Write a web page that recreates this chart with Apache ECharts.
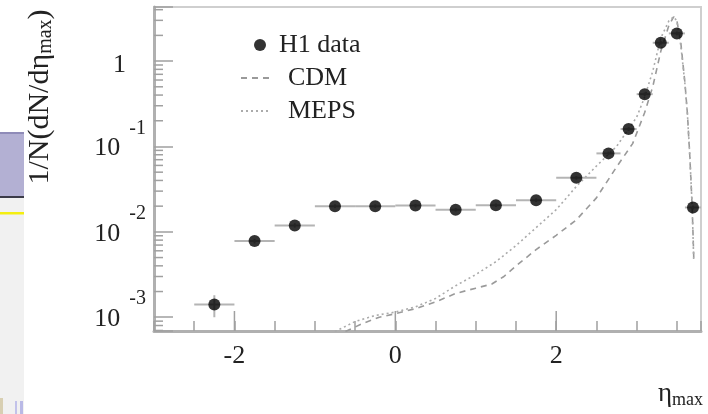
<!DOCTYPE html>
<html>
<head>
<meta charset="utf-8">
<script src="https://cdn.jsdelivr.net/npm/echarts@6/dist/echarts.min.js"></script>
<style>
html,body{margin:0;padding:0;background:#fff;}
#chart{width:708px;height:414px;}
</style>
</head>
<body>
<div id="chart"></div>
<script>
// ---- data ----
const etaCenters = [-2.25, -1.75, -1.25, -0.75, -0.25, 0.25, 0.75, 1.25, 1.75, 2.25, 2.65, 2.9, 3.1, 3.3, 3.5, 3.7];
const binLow     = [-2.5, -2.0, -1.5, -1.0, -0.5, 0.0, 0.5, 1.0, 1.5, 2.0, 2.5, 2.8, 3.0, 3.2, 3.4, 3.6];
const binHigh    = [-2.0, -1.5, -1.0, -0.5, 0.0, 0.5, 1.0, 1.5, 2.0, 2.5, 2.8, 3.0, 3.2, 3.4, 3.6, 3.8];
const h1Values   = [1.41e-3, 7.8e-3, 1.19e-2, 2.0e-2, 2.0e-2, 2.03e-2, 1.82e-2, 2.05e-2, 2.35e-2, 4.3e-2, 8.3e-2, 0.16, 0.41, 1.64, 2.11, 1.93e-2];
const h1ErrLow   = [1.0e-3, 7.3e-3, 1.12e-2, 1.9e-2, 1.9e-2, 1.93e-2, 1.73e-2, 1.95e-2, 2.23e-2, 4.1e-2, 7.9e-2, 0.152, 0.39, 1.56, 2.0, 1.83e-2];
const h1ErrHigh  = [1.81e-3, 8.3e-3, 1.26e-2, 2.1e-2, 2.1e-2, 2.13e-2, 1.91e-2, 2.15e-2, 2.47e-2, 4.5e-2, 8.7e-2, 0.168, 0.43, 1.72, 2.22, 2.03e-2];

const cdmEta = [-0.62, -0.4, -0.2, 0.0, 0.25, 0.5, 0.75, 1.0, 1.2, 1.35, 1.5, 1.75, 2.0, 2.25, 2.5, 2.75, 2.95, 3.1, 3.2, 3.3, 3.4, 3.46, 3.5, 3.55, 3.6, 3.63, 3.66, 3.69, 3.71];
const cdmVal = [6.8e-4, 8.5e-4, 1.0e-3, 1.1e-3, 1.26e-3, 1.51e-3, 1.9e-3, 2.19e-3, 2.45e-3, 3.0e-3, 3.98e-3, 6.2e-3, 9.1e-3, 1.38e-2, 2.5e-2, 5.75e-2, 0.108, 0.25, 0.5, 1.3, 2.6, 3.3, 3.0, 1.6, 0.56, 0.25, 0.08, 0.02, 5.0e-3];

const mepsEta = [-0.75, -0.5, -0.25, 0.0, 0.25, 0.5, 0.75, 1.0, 1.25, 1.5, 1.75, 2.0, 2.25, 2.5, 2.75, 3.0, 3.1, 3.2, 3.3, 3.4, 3.46, 3.5, 3.55, 3.6, 3.63, 3.66, 3.69, 3.71];
const mepsVal = [6.8e-4, 8.9e-4, 1.05e-3, 1.15e-3, 1.32e-3, 1.66e-3, 2.34e-3, 3.16e-3, 4.47e-3, 6.9e-3, 1.12e-2, 1.82e-2, 3.4e-2, 5.9e-2, 0.1, 0.22, 0.38, 0.76, 1.86, 2.95, 3.3, 2.95, 1.5, 0.54, 0.25, 0.08, 0.02, 4.5e-3];

const xMajorTicks = [-2, 0, 2];
const xLabelValues = [-2, 0, 2];
const logDecades = [-4, -3, -2, -1, 0];
const logMultipliers = [2, 3, 4, 5, 6, 7, 8, 9];

const X_MIN = -3, X_MAX = 3.8, Y_MIN = 6.9e-4, Y_MAX = 4.3;
const FONT = 'Liberation Serif';

const minorY = [];
logDecades.forEach(d => logMultipliers.forEach(m => {
  const v = m * Math.pow(10, d);
  if (v > Y_MIN && v < Y_MAX) minorY.push([X_MIN, v]);
}));

const chart = echarts.init(document.getElementById('chart'), null, {renderer: 'canvas'});

const option = {
  backgroundColor: '#ffffff',
  animation: false,
  graphic: [
    {type: 'rect', shape: {x: 0, y: 133, width: 24, height: 63}, style: {fill: '#b3b0d3'}, silent: true},
    {type: 'rect', shape: {x: 0, y: 132, width: 24, height: 2}, style: {fill: '#8f8bb8'}, silent: true},
    {type: 'rect', shape: {x: 0, y: 196, width: 24, height: 2}, style: {fill: '#3b3b48'}, silent: true},
    {type: 'rect', shape: {x: 0, y: 198, width: 24, height: 216}, style: {fill: '#f1f1f1'}, silent: true},
    {type: 'rect', shape: {x: 0, y: 212, width: 24, height: 2.5}, style: {fill: '#f4ee10'}, silent: true},
    {type: 'rect', shape: {x: 0, y: 398, width: 3, height: 16}, style: {fill: '#d8cfb2'}, silent: true},
    {type: 'rect', shape: {x: 15, y: 401, width: 2, height: 13}, style: {fill: '#c2c2ea'}, silent: true},
    {type: 'rect', shape: {x: 20, y: 401, width: 3, height: 13}, style: {fill: '#b9b9e6'}, silent: true}
  ],
  grid: {left: 154, right: 7, top: 7, bottom: 83, show: true, borderColor: '#cfcfcf', borderWidth: 2, backgroundColor: 'transparent'},
  legend: [
    {
      data: ['H1 data'], left: 249, top: 27, itemWidth: 28, itemHeight: 12,
      textStyle: {fontFamily: FONT, fontSize: 26, color: '#222'}
    },
    {
      data: ['CDM', 'MEPS'], orient: 'vertical', left: 235, top: 60, itemWidth: 30, itemHeight: 14, itemGap: 7,
      itemStyle: {color: 'transparent', borderColor: 'transparent', borderWidth: 0, opacity: 0},
      textStyle: {fontFamily: FONT, fontSize: 26, color: '#222', padding: [0, 0, 0, 12]}
    }
  ],
  xAxis: {
    type: 'value', min: X_MIN, max: X_MAX, interval: 0.5,
    axisLine: {show: true, onZero: false, lineStyle: {color: '#b0b0b0', width: 3}},
    axisTick: {show: true, inside: true, length: 10, lineStyle: {color: '#a0a0a0', width: 1.5}},
    splitLine: {show: false},
    axisLabel: {
      margin: 12, fontFamily: FONT, fontSize: 26, color: '#222',
      formatter: v => xLabelValues.some(t => Math.abs(t - v) < 1e-9) ? String(v) : ''
    },
    name: '{a|η}{s|max}', nameLocation: 'end', nameGap: 2,
    nameTextStyle: {
      fontFamily: FONT, fontSize: 26, color: '#222', align: 'right', verticalAlign: 'top', padding: [48, 0, 0, 0],
      rich: {a: {fontFamily: FONT, fontSize: 27, lineHeight: 30, color: '#222'},
             s: {fontFamily: FONT, fontSize: 18, lineHeight: 14, verticalAlign: 'bottom', color: '#222'}}
    }
  },
  yAxis: {
    type: 'log', logBase: 10, min: Y_MIN, max: Y_MAX,
    axisLine: {show: true, onZero: false, lineStyle: {color: '#b0b0b0', width: 3}},
    axisTick: {show: true, inside: true, length: 19, lineStyle: {color: '#a0a0a0', width: 1.5}},
    splitLine: {show: false},
    axisLabel: {
      margin: 8, padding: [4, 0, 0, 0], fontFamily: FONT, fontSize: 26, color: '#222',
      formatter: v => {
        const l = Math.log10(v), e = Math.round(l);
        if (Math.abs(l - e) > 1e-6) return '';
        if (e === 0) return '{one|1}';
        return '{b|10}{s|' + e + '}';
      },
      rich: {
        b: {fontFamily: FONT, fontSize: 26, lineHeight: 60, color: '#222'},
        one: {fontFamily: FONT, fontSize: 26, lineHeight: 60, color: '#222', padding: [4, 20, 0, 0]},
        s: {fontFamily: FONT, fontSize: 20, lineHeight: 10, verticalAlign: 'top', color: '#222', padding: [0, 0, 0, 9]}
      }
    },
    name: '{a|1/N(dN/dη}{s|max}{a|)}', nameLocation: 'middle', nameGap: 98, nameRotate: 90,
    nameTextStyle: {
      fontFamily: FONT, fontSize: 30, color: '#222', padding: [0, 0, 0, 144],
      rich: {a: {fontFamily: FONT, fontSize: 30, lineHeight: 32, color: '#222'},
             s: {fontFamily: FONT, fontSize: 20, lineHeight: 12, verticalAlign: 'bottom', color: '#222'}}
    }
  },
  series: [
    {
      name: 'y minor ticks', type: 'custom', silent: true, z: 3,
      data: minorY,
      renderItem: (params, api) => {
        const p = api.coord([api.value(0), api.value(1)]);
        return {type: 'line', shape: {x1: p[0], y1: p[1], x2: p[0] + 9, y2: p[1]}, style: {stroke: '#a0a0a0', lineWidth: 1.5}};
      }
    },
    {
      name: 'x major ticks', type: 'custom', silent: true, z: 3,
      data: xMajorTicks.map(t => [t, Y_MIN]),
      renderItem: (params, api) => {
        const p = api.coord([api.value(0), api.value(1)]);
        return {type: 'line', shape: {x1: p[0], y1: p[1], x2: p[0], y2: p[1] - 20}, style: {stroke: '#a0a0a0', lineWidth: 1.5}};
      }
    },
    {
      name: 'CDM', type: 'line', symbol: 'none', z: 4,
      data: cdmEta.map((x, i) => [x, cdmVal[i]]),
      color: '#9a9a9a',
      lineStyle: {color: '#9a9a9a', width: 1.6, type: [6, 5]}
    },
    {
      name: 'MEPS', type: 'line', symbol: 'none', z: 4,
      data: mepsEta.map((x, i) => [x, mepsVal[i]]),
      color: '#ababab',
      lineStyle: {color: '#ababab', width: 1.6, type: [2, 3]}
    },
    {
      name: 'errors', type: 'custom', silent: true, z: 5,
      data: etaCenters.map((x, i) => [x, h1Values[i], binLow[i], binHigh[i], h1ErrLow[i], h1ErrHigh[i]]),
      encode: {x: 0, y: 1},
      renderItem: (params, api) => {
        const c = api.value(0), y = api.value(1);
        const a = api.coord([api.value(2), y]), b = api.coord([api.value(3), y]);
        const lo = api.coord([c, api.value(4)]), hi = api.coord([c, api.value(5)]);
        return {type: 'group', children: [
          {type: 'line', shape: {x1: a[0], y1: a[1], x2: b[0], y2: b[1]}, style: {stroke: '#b4b4b4', lineWidth: 2}},
          {type: 'line', shape: {x1: lo[0], y1: lo[1], x2: hi[0], y2: hi[1]}, style: {stroke: '#b4b4b4', lineWidth: 2}}
        ]};
      }
    },
    {
      name: 'H1 data', type: 'scatter', symbol: 'circle', symbolSize: 12, z: 6,
      data: etaCenters.map((x, i) => [x, h1Values[i]]),
      color: '#000', itemStyle: {color: '#000'}
    }
  ]
};
chart.setOption(option);
</script>
</body>
</html>
